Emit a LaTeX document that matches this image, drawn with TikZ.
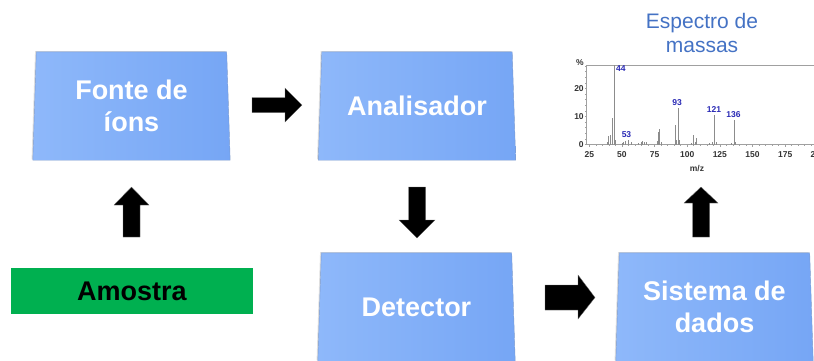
\documentclass[tikz,border=0pt]{standalone}
\usepackage{fontspec}
\setmainfont{Liberation Sans}
\usetikzlibrary{shadows,backgrounds}
\definecolor{boxL}{RGB}{142,184,250}
\definecolor{boxR}{RGB}{118,166,245}
\definecolor{boxE}{RGB}{125,155,205}
\definecolor{amgreen}{RGB}{0,176,80}
\definecolor{spblue}{RGB}{68,114,196}
\definecolor{pkblue}{RGB}{40,40,180}
\definecolor{axgray}{RGB}{160,160,160}
\definecolor{pkgray}{RGB}{140,140,140}
\begin{document}
\begin{tikzpicture}[x=1pt,y=-1pt,
  stage/.style={rectangle, minimum height=108, minimum width=197, inner sep=0,
    font=\bfseries\fontsize{27}{32}\selectfont, text=white, align=center},
  stagefill/.style={left color=boxL, right color=boxR, draw=boxE, line width=0.4pt,
    drop shadow={opacity=0.25, shadow xshift=-1.2pt, shadow yshift=0.8pt}},
  blockarrow/.style={fill=black, draw=black!55, line width=0.3pt, line join=miter},
  ticklbl/.style={font=\bfseries\fontsize{8.5}{9}\selectfont, text=black!80, inner sep=0.5pt},
  pklbl/.style={font=\bfseries\fontsize{8.5}{9}\selectfont, text=pkblue, inner sep=0.5pt},
  peak/.style={draw=pkgray, line width=0.8pt}]
\useasboundingbox (0,0) rectangle (814,360);

% stages
\node[stage] (fonte) at (131.5,106) {Fonte de\\íons};
\node[stage] (anal) at (417,106) {Analisador};
\node[stage] (det) at (416.5,307) {Detector};
\node[stage] (sist) at (714.5,307) {Sistema de\\dados};
\begin{scope}[on background layer]
  \foreach \n in {fonte,anal,det,sist}
    \shade[stagefill] ([xshift=3.5pt]\n.north west) -- ([xshift=-3.5pt]\n.north east)
      -- (\n.south east) -- (\n.south west) -- cycle;
\end{scope}
\node[fill=amgreen, minimum width=242, minimum height=46, inner sep=0,
  font=\bfseries\fontsize{27}{32}\selectfont, text=black] (amo) at (132,291) {Amostra};

% title of spectrum
\node[text=spblue, font=\fontsize{21}{24}\selectfont, align=center, inner sep=0] (title) at (702,33.4) {Espectro de\\massas};

% block arrows
\fill[blockarrow] (252,97.5) -- (285,97.5) -- (285,88) -- (302,105) -- (285,122) -- (285,112.5) -- (252,112.5) -- cycle;
\fill[blockarrow] (408.5,187) -- (425.5,187) -- (425.5,220) -- (435,220) -- (417,238) -- (399,220) -- (408.5,220) -- cycle;
\fill[blockarrow] (123,237) -- (140,237) -- (140,205) -- (149,205) -- (131.5,187) -- (114,205) -- (123,205) -- cycle;
\fill[blockarrow] (692.5,237) -- (709.5,237) -- (709.5,203) -- (718,203) -- (701,187) -- (684,203) -- (692.5,203) -- cycle;
\fill[blockarrow] (545,285) -- (578,285) -- (578,275) -- (595,297.5) -- (578,319) -- (578,310) -- (545,310) -- cycle;

% mass spectrum
\begin{scope}[shift={(556.6,144.5)}, xscale=1.306, yscale=-2.8]
  \draw[axgray, line width=0.6pt] (197,28.4) -- (22.5,28.4) -- (22.5,0) -- (197,0);
  \foreach \m in {25,30,...,195} \draw[axgray, line width=0.5pt] (\m,0) -- (\m,-0.5);
  \foreach \m in {25,50,...,175} \draw[axgray, line width=0.6pt] (\m,0) -- (\m,-0.9);
  \foreach \v in {0,2,...,28} \draw[axgray, line width=0.5pt] (22.5,\v) -- (21.6,\v);
  \foreach \m in {25,50,...,200} \node[ticklbl] at (\m,-3.5) {\m};
  \foreach \v in {0,10,20} \node[ticklbl, anchor=east] at (21.3,\v) {\v};
  \node[ticklbl, anchor=east] at (21.3,29.2) {\%};
  \node[ticklbl] at (107.5,-8.4) {m/z};
  \foreach \m/\h in {39/0.8,40/3.2,41/3.5,43/9.6,44/28.4,45/1.5,50/0.6,51/1,53/1.2,55/1.6,57/0.8,
     63/0.6,65/1,66/1.3,67/1,69/1,77/1.4,78/4.5,79/5.5,80/1,91/7,92/1.5,93/13.2,94/1.5,
     103/0.6,105/3.5,106/1,107/2.3,117/0.6,119/0.8,121/10.7,122/1,134/0.5,136/8.9,137/0.8}
     \draw[peak] (\m,0) -- (\m,\h);
  \node[pklbl, anchor=west] at (45,27) {44};
  \node[pklbl] at (53.5,3.6) {53};
  \node[pklbl] at (92.3,14.8) {93};
  \node[pklbl] at (120.5,12.4) {121};
  \node[pklbl] at (135.5,10.6) {136};
\end{scope}
\end{tikzpicture}
\end{document}
